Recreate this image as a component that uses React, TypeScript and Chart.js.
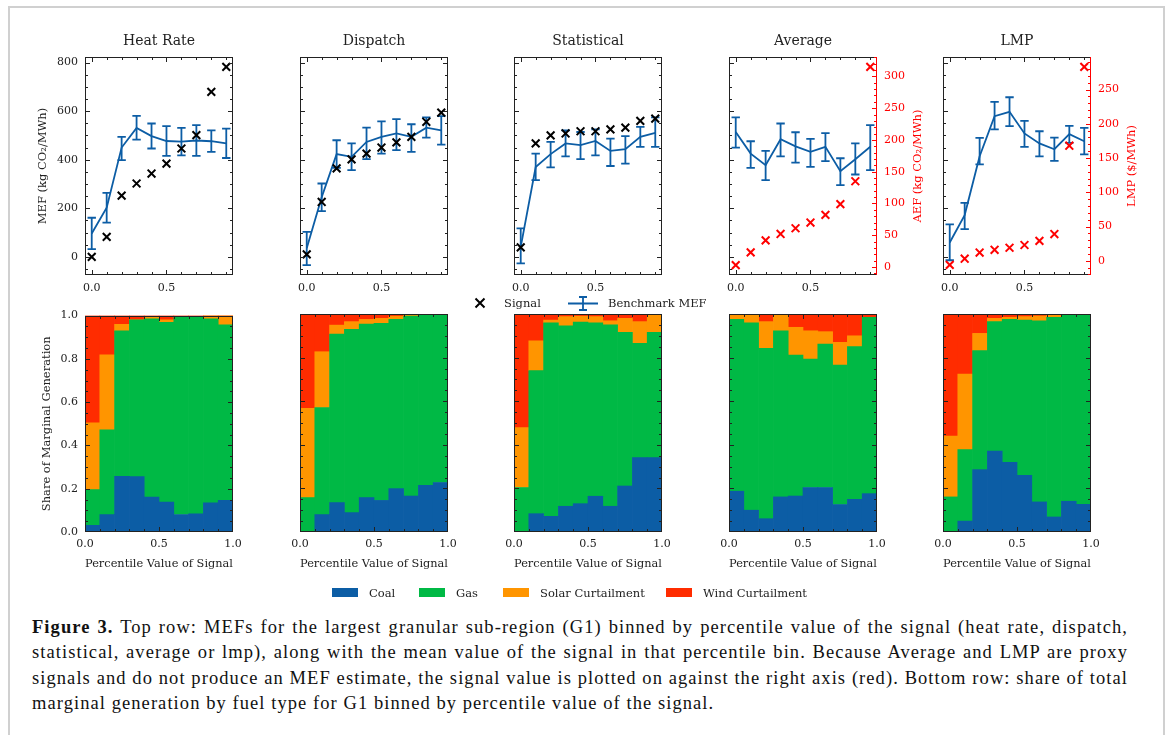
import React, { useEffect, useRef } from "react";
import { Chart, registerables } from "chart.js";

Chart.register(...registerables);

// ---------------- data ----------------
const PANEL_TITLES = ["Heat Rate", "Dispatch", "Statistical", "Average", "LMP"];
const PERCENTILE_BINS = [0.0, 0.1, 0.2, 0.3, 0.4, 0.5, 0.6, 0.7, 0.8, 0.9];
const BIN_CENTERS = [0.05, 0.15, 0.25, 0.35, 0.45, 0.55, 0.65, 0.75, 0.85, 0.95];

// Top row: benchmark MEF (mean, lower, upper) and signal mean per percentile bin
const HEAT_RATE_MEF = [96, 202, 450, 531, 497, 477, 474, 479, 476, 467];
const HEAT_RATE_MEF_LOW = [32, 141, 398, 483, 446, 416, 418, 416, 432, 407];
const HEAT_RATE_MEF_HIGH = [161, 263, 494, 580, 549, 538, 531, 542, 521, 528];
const HEAT_RATE_SIGNAL = [0, 82, 252, 302, 343, 384, 446, 501, 679, 782];

const DISPATCH_MEF = [35, 245, 423, 412, 473, 494, 508, 494, 532, 521];
const DISPATCH_MEF_LOW = [-34, 188, 366, 357, 402, 425, 439, 432, 491, 462];
const DISPATCH_MEF_HIGH = [103, 302, 480, 467, 532, 558, 567, 546, 574, 579];
const DISPATCH_SIGNAL = [10, 226, 364, 401, 425, 450, 471, 494, 556, 594];

const STATISTICAL_MEF = [41, 370, 423, 467, 460, 477, 436, 443, 494, 510];
const STATISTICAL_MEF_LOW = [-27, 316, 368, 414, 402, 418, 374, 384, 453, 453];
const STATISTICAL_MEF_HIGH = [117, 425, 473, 521, 514, 525, 487, 497, 535, 574];
const STATISTICAL_SIGNAL = [39, 467, 500, 508, 517, 517, 525, 532, 560, 569];

const AVERAGE_MEF = [514, 425, 377, 484, 455, 432, 453, 353, 402, 453];
const AVERAGE_MEF_LOW = [450, 366, 316, 414, 388, 370, 394, 295, 339, 357];
const AVERAGE_MEF_HIGH = [574, 476, 436, 549, 513, 486, 509, 406, 467, 542];
const AVERAGE_SIGNAL_AEF = [3, 23, 42, 52, 61, 70, 82, 99, 135, 315];

const LMP_MEF = [59, 172, 414, 579, 597, 508, 467, 443, 505, 476];
const LMP_MEF_LOW = [-14, 114, 381, 525, 538, 453, 414, 395, 469, 422];
const LMP_MEF_HIGH = [134, 222, 490, 638, 657, 560, 517, 491, 539, 531];
const LMP_SIGNAL_PRICE = [-6, 3, 12, 16, 19, 23, 29, 39, 168, 283];

// Bottom row: share of marginal generation per bin
const FUEL_LABELS = ["Coal", "Gas", "Solar Curtailment", "Wind Curtailment"];

const HEAT_RATE_COAL = [0.031, 0.080, 0.257, 0.256, 0.161, 0.138, 0.081, 0.084, 0.135, 0.146];
const HEAT_RATE_GAS = [0.165, 0.392, 0.673, 0.724, 0.824, 0.831, 0.911, 0.911, 0.850, 0.811];
const HEAT_RATE_SOLAR = [0.309, 0.347, 0.030, 0.000, 0.010, 0.011, 0.003, 0.002, 0.015, 0.043];
const HEAT_RATE_WIND = [0.495, 0.181, 0.040, 0.020, 0.005, 0.020, 0.005, 0.003, 0.000, 0.000];

const DISPATCH_COAL = [0.000, 0.080, 0.135, 0.089, 0.158, 0.145, 0.199, 0.165, 0.214, 0.227];
const DISPATCH_GAS = [0.158, 0.491, 0.773, 0.841, 0.796, 0.812, 0.776, 0.825, 0.781, 0.773];
const DISPATCH_SOLAR = [0.409, 0.256, 0.041, 0.035, 0.021, 0.023, 0.015, 0.007, 0.005, 0.000];
const DISPATCH_WIND = [0.433, 0.173, 0.051, 0.035, 0.025, 0.020, 0.010, 0.003, 0.000, 0.000];

const STATISTICAL_COAL = [0.000, 0.084, 0.072, 0.118, 0.130, 0.164, 0.118, 0.211, 0.341, 0.341];
const STATISTICAL_GAS = [0.204, 0.656, 0.888, 0.828, 0.833, 0.796, 0.832, 0.705, 0.524, 0.575];
const STATISTICAL_SOLAR = [0.275, 0.137, 0.012, 0.042, 0.027, 0.028, 0.019, 0.064, 0.100, 0.084];
const STATISTICAL_WIND = [0.521, 0.123, 0.028, 0.012, 0.010, 0.012, 0.031, 0.020, 0.035, 0.000];

const AVERAGE_COAL = [0.187, 0.100, 0.061, 0.161, 0.165, 0.204, 0.204, 0.126, 0.150, 0.176];
const AVERAGE_GAS = [0.788, 0.860, 0.781, 0.762, 0.647, 0.589, 0.658, 0.640, 0.700, 0.809];
const AVERAGE_SOLAR = [0.025, 0.040, 0.123, 0.077, 0.127, 0.130, 0.057, 0.104, 0.050, 0.000];
const AVERAGE_WIND = [0.000, 0.000, 0.035, 0.000, 0.061, 0.077, 0.081, 0.130, 0.100, 0.015];

const LMP_COAL = [0.000, 0.050, 0.286, 0.371, 0.320, 0.260, 0.138, 0.069, 0.141, 0.127];
const LMP_GAS = [0.161, 0.328, 0.546, 0.594, 0.655, 0.712, 0.831, 0.916, 0.856, 0.870];
const LMP_SOLAR = [0.279, 0.346, 0.079, 0.015, 0.010, 0.016, 0.022, 0.010, 0.001, 0.003];
const LMP_WIND = [0.560, 0.276, 0.089, 0.020, 0.015, 0.012, 0.009, 0.005, 0.002, 0.000];

// Tick labels
const MEF_TICKS = [0, 200, 400, 600, 800];
const AEF_TICKS = [0, 50, 100, 150, 200, 250, 300];
const LMP_TICKS = [0, 50, 100, 150, 200, 250];
const TOP_X_TICKS = [0, 0.5];
const SHARE_TICKS = [0, 0.2, 0.4, 0.6, 0.8, 1.0];
const BOTTOM_X_TICKS = [0, 0.5, 1.0];

const CAPTION_LINES = [
  "Top row: MEFs for the largest granular sub-region (G1) binned by percentile value of the signal (heat rate, dispatch,",
  "statistical, average or lmp), along with the mean value of the signal in that percentile bin. Because Average and LMP are proxy",
  "signals and do not produce an MEF estimate, the signal value is plotted on against the right axis (red). Bottom row: share of total",
  "marginal generation by fuel type for G1 binned by percentile value of the signal.",
];

// ---------------- styling / layout ----------------
const FONT = "'DejaVu Serif', serif";
const CAPTION_FONT = "'Liberation Serif', 'Times New Roman', serif";
const INK = "#222222";
const BLUE = "#0C5DA5";
const FUEL_COLORS = ["#0C5DA5", "#00B945", "#FF9500", "#FF2C00"];
const SIGNAL_RED = "#FF0000";

const COL_LEFT = [85, 300, 514, 729, 943];
const PLOT_W = 148;
const PLOT_H = 218;
const ROW_TOP = [57, 314];
const PAD_L = 52;
const PAD_R = 56;
const TITLE_H = 30;
const PAD_T2 = 12;
const PAD_B = 45;
const MAJOR_LEN = 4.5;
const MINOR_LEN = 2.5;
const CAP_HALF = 4.2;

const TOP_PANELS = [
  { title: PANEL_TITLES[0], mef: HEAT_RATE_MEF, low: HEAT_RATE_MEF_LOW, high: HEAT_RATE_MEF_HIGH, signal: HEAT_RATE_SIGNAL, right: null as any },
  { title: PANEL_TITLES[1], mef: DISPATCH_MEF, low: DISPATCH_MEF_LOW, high: DISPATCH_MEF_HIGH, signal: DISPATCH_SIGNAL, right: null as any },
  { title: PANEL_TITLES[2], mef: STATISTICAL_MEF, low: STATISTICAL_MEF_LOW, high: STATISTICAL_MEF_HIGH, signal: STATISTICAL_SIGNAL, right: null as any },
  {
    title: PANEL_TITLES[3], mef: AVERAGE_MEF, low: AVERAGE_MEF_LOW, high: AVERAGE_MEF_HIGH, signal: AVERAGE_SIGNAL_AEF,
    right: { label: "AEF (kg CO\u2082/MWh)", ticks: AEF_TICKS, min: -12.6, max: 330.6, minor: 10 },
  },
  {
    title: PANEL_TITLES[4], mef: LMP_MEF, low: LMP_MEF_LOW, high: LMP_MEF_HIGH, signal: LMP_SIGNAL_PRICE,
    right: { label: "LMP ($/MWh)", ticks: LMP_TICKS, min: -20.8, max: 297.5, minor: 10 },
  },
];

const BOTTOM_PANELS = [
  [HEAT_RATE_COAL, HEAT_RATE_GAS, HEAT_RATE_SOLAR, HEAT_RATE_WIND],
  [DISPATCH_COAL, DISPATCH_GAS, DISPATCH_SOLAR, DISPATCH_WIND],
  [STATISTICAL_COAL, STATISTICAL_GAS, STATISTICAL_SOLAR, STATISTICAL_WIND],
  [AVERAGE_COAL, AVERAGE_GAS, AVERAGE_SOLAR, AVERAGE_WIND],
  [LMP_COAL, LMP_GAS, LMP_SOLAR, LMP_WIND],
];

// ---------------- helpers ----------------
function stepValues(min: number, max: number, step: number) {
  const out: number[] = [];
  for (let k = Math.ceil(min / step - 1e-6); k * step <= max + 1e-6; k++) out.push(k * step);
  return out;
}

type FrameCfg = {
  xMajor: number[];
  xMinor: number;
  yMajor: number[];
  yMinor: number;
  y2?: { ticks: number[]; minor: number; label: string } | null;
  err?: { x: number[]; low: number[]; high: number[] } | null;
};

function makeFramePlugin(cfg: FrameCfg) {
  return {
    id: "frameTicks",
    afterDatasetDraw(chart: any, args: any) {
      if (!cfg.err || args.index !== 0) return;
      const { ctx } = chart;
      const xs = chart.scales.x;
      const ys = chart.scales.y;
      ctx.save();
      ctx.strokeStyle = BLUE;
      ctx.lineWidth = 1.8;
      cfg.err.x.forEach((xv, k) => {
        const px = xs.getPixelForValue(xv);
        const lo = ys.getPixelForValue(cfg.err!.low[k]);
        const hi = ys.getPixelForValue(cfg.err!.high[k]);
        ctx.beginPath();
        ctx.moveTo(px, lo);
        ctx.lineTo(px, hi);
        ctx.moveTo(px - CAP_HALF, lo);
        ctx.lineTo(px + CAP_HALF, lo);
        ctx.moveTo(px - CAP_HALF, hi);
        ctx.lineTo(px + CAP_HALF, hi);
        ctx.stroke();
      });
      ctx.restore();
    },
    afterDraw(chart: any) {
      const { ctx, chartArea: a } = chart;
      const xs = chart.scales.x;
      const ys = chart.scales.y;
      const left = Math.round(a.left) + 0.5;
      const right = Math.round(a.right) - 0.5;
      const top = Math.round(a.top) + 0.5;
      const bottom = Math.round(a.bottom) - 0.5;
      ctx.save();
      ctx.lineWidth = 1;
      ctx.strokeStyle = INK;
      const xTick = (v: number, len: number) => {
        const p = Math.round(xs.getPixelForValue(v)) + 0.5;
        if (p < left - 0.1 || p > right + 0.1) return;
        ctx.moveTo(p, bottom);
        ctx.lineTo(p, bottom - len);
        ctx.moveTo(p, top);
        ctx.lineTo(p, top + len);
      };
      const yTick = (scale: any, v: number, len: number, l: boolean, r: boolean) => {
        const p = Math.round(scale.getPixelForValue(v)) + 0.5;
        if (p < top - 0.1 || p > bottom + 0.1) return;
        if (l) {
          ctx.moveTo(left, p);
          ctx.lineTo(left + len, p);
        }
        if (r) {
          ctx.moveTo(right, p);
          ctx.lineTo(right - len, p);
        }
      };
      ctx.beginPath();
      cfg.xMajor.forEach((v) => xTick(v, MAJOR_LEN));
      stepValues(xs.min, xs.max, cfg.xMinor).forEach((v) => xTick(v, MINOR_LEN));
      const mirror = !cfg.y2;
      cfg.yMajor.forEach((v) => yTick(ys, v, MAJOR_LEN, true, mirror));
      stepValues(ys.min, ys.max, cfg.yMinor).forEach((v) => yTick(ys, v, MINOR_LEN, true, mirror));
      ctx.stroke();
      ctx.strokeRect(left, top, right - left, bottom - top);

      if (cfg.y2) {
        const y2 = chart.scales.y2;
        ctx.strokeStyle = SIGNAL_RED;
        ctx.beginPath();
        cfg.y2.ticks.forEach((v) => yTick(y2, v, MAJOR_LEN, false, true));
        stepValues(y2.min, y2.max, cfg.y2.minor).forEach((v) => yTick(y2, v, MINOR_LEN, false, true));
        ctx.moveTo(right, top - 0.5);
        ctx.lineTo(right, bottom + 0.5);
        ctx.stroke();
        ctx.fillStyle = SIGNAL_RED;
        ctx.font = `11.5px ${FONT}`;
        ctx.textAlign = "center";
        ctx.textBaseline = "middle";
        ctx.translate(a.right + 41, (a.top + a.bottom) / 2);
        ctx.rotate(-Math.PI / 2);
        ctx.fillText(cfg.y2.label, 0, 0);
      }
      ctx.restore();
    },
  };
}

const tickFont = { family: FONT, size: 11 };
const labelFont = { family: FONT, size: 11.5, lineHeight: 1.2 };

function topConfig(spec: (typeof TOP_PANELS)[number], col: number) {
  const hasRight = !!spec.right;
  const sigColor = hasRight ? SIGNAL_RED : "#000000";
  const scales: any = {
    x: {
      type: "linear",
      min: -0.045,
      max: 0.945,
      grid: { display: false, drawTicks: false },
      border: { display: false },
      ticks: { padding: 7, font: tickFont, color: INK, callback: (v: any) => Number(v).toFixed(1) },
      afterBuildTicks: (s: any) => {
        s.ticks = TOP_X_TICKS.map((v) => ({ value: v }));
      },
      afterFit: (s: any) => {
        s.height = PAD_B;
      },
    },
    y: {
      type: "linear",
      position: "left",
      min: -74.8,
      max: 822.8,
      grid: { display: false, drawTicks: false },
      border: { display: false },
      ticks: { display: col === 0, padding: 7, font: tickFont, color: INK, callback: (v: any) => String(v) },
      afterBuildTicks: (s: any) => {
        s.ticks = MEF_TICKS.map((v) => ({ value: v }));
      },
      afterFit: (s: any) => {
        s.width = PAD_L;
      },
      title: {
        display: col === 0,
        text: "MEF (kg CO\u2082/MWh)",
        font: labelFont,
        color: INK,
        padding: { top: 3.4, bottom: 0 },
      },
    },
  };
  if (hasRight) {
    scales.y2 = {
      type: "linear",
      position: "right",
      min: spec.right.min,
      max: spec.right.max,
      grid: { display: false, drawTicks: false },
      border: { display: false },
      ticks: { padding: 7, font: tickFont, color: SIGNAL_RED, callback: (v: any) => String(v) },
      afterBuildTicks: (s: any) => {
        s.ticks = spec.right.ticks.map((v: number) => ({ value: v }));
      },
      afterFit: (s: any) => {
        s.width = PAD_R;
      },
    };
  }
  return {
    type: "scatter",
    data: {
      datasets: [
        {
          label: "Benchmark MEF",
          data: PERCENTILE_BINS.map((x, k) => ({ x, y: spec.mef[k] })),
          showLine: true,
          borderColor: BLUE,
          backgroundColor: BLUE,
          borderWidth: 1.8,
          pointRadius: 0,
          tension: 0,
          yAxisID: "y",
          order: 2,
        },
        {
          label: "Signal",
          data: PERCENTILE_BINS.map((x, k) => ({ x, y: spec.signal[k] })),
          showLine: false,
          pointStyle: "crossRot",
          pointRadius: 5.5,
          pointBorderWidth: 2,
          pointBorderColor: sigColor,
          pointBackgroundColor: sigColor,
          borderColor: sigColor,
          backgroundColor: sigColor,
          yAxisID: hasRight ? "y2" : "y",
          order: 1,
        },
      ],
    },
    options: {
      responsive: false,
      animation: false,
      events: [],
      layout: { padding: { left: 0, right: hasRight ? 0 : PAD_R, top: 0, bottom: 0 } },
      plugins: {
        legend: { display: false },
        tooltip: { enabled: false },
        title: {
          display: true,
          text: spec.title,
          fullSize: false,
          color: INK,
          font: { family: FONT, size: 14, weight: "normal", lineHeight: 1.2 },
          padding: { top: 5.6, bottom: 7.6 },
        },
      },
      scales,
    },
    plugins: [
      makeFramePlugin({
        xMajor: TOP_X_TICKS,
        xMinor: 0.1,
        yMajor: MEF_TICKS,
        yMinor: 50,
        y2: hasRight ? { ticks: spec.right.ticks, minor: spec.right.minor, label: spec.right.label } : null,
        err: { x: PERCENTILE_BINS, low: spec.low, high: spec.high },
      }),
    ],
  };
}

function bottomConfig(shares: number[][], col: number) {
  return {
    type: "bar",
    data: {
      datasets: shares.map((vals, j) => ({
        label: FUEL_LABELS[j],
        data: BIN_CENTERS.map((x, k) => ({ x, y: vals[k] })),
        backgroundColor: FUEL_COLORS[j],
        borderWidth: 0,
        barPercentage: 1,
        categoryPercentage: 1,
      })),
    },
    options: {
      responsive: false,
      animation: false,
      events: [],
      layout: { padding: { left: 0, right: PAD_R, top: PAD_T2, bottom: 0 } },
      plugins: { legend: { display: false }, tooltip: { enabled: false } },
      scales: {
        x: {
          type: "linear",
          min: 0,
          max: 1,
          offset: false,
          stacked: true,
          grid: { display: false, drawTicks: false },
          border: { display: false },
          ticks: { padding: 6, font: tickFont, color: INK, callback: (v: any) => Number(v).toFixed(1) },
          afterBuildTicks: (s: any) => {
            s.ticks = BOTTOM_X_TICKS.map((v) => ({ value: v }));
          },
          afterFit: (s: any) => {
            s.height = PAD_B;
          },
          title: {
            display: true,
            text: "Percentile Value of Signal",
            font: labelFont,
            color: INK,
            padding: { top: 0, bottom: 6.1 },
          },
        },
        y: {
          type: "linear",
          min: 0,
          max: 1,
          stacked: true,
          grid: { display: false, drawTicks: false },
          border: { display: false },
          ticks: { display: col === 0, padding: 7, font: tickFont, color: INK, callback: (v: any) => Number(v).toFixed(1) },
          afterBuildTicks: (s: any) => {
            s.ticks = SHARE_TICKS.map((v) => ({ value: v }));
          },
          afterFit: (s: any) => {
            s.width = PAD_L;
          },
          title: {
            display: col === 0,
            text: "Share of Marginal Generation",
            font: labelFont,
            color: INK,
            padding: { top: 6.8, bottom: 0 },
          },
        },
      },
    },
    plugins: [
      makeFramePlugin({ xMajor: BOTTOM_X_TICKS, xMinor: 0.1, yMajor: SHARE_TICKS, yMinor: 0.05, y2: null, err: null }),
    ],
  };
}

function ChartCanvas(props: { left: number; top: number; width: number; height: number; make: () => any }) {
  const ref = useRef<HTMLCanvasElement | null>(null);
  useEffect(() => {
    if (!ref.current) return;
    const chart = new Chart(ref.current, props.make());
    return () => chart.destroy();
  }, []);
  const { left, top, width, height } = props;
  return (
    <canvas
      ref={ref}
      width={width}
      height={height}
      style={{ position: "absolute", left, top, width, height, display: "block" }}
    />
  );
}

const textStyle: React.CSSProperties = {
  position: "absolute",
  fontFamily: FONT,
  fontSize: 11.5,
  lineHeight: "14px",
  color: INK,
  whiteSpace: "nowrap",
};

const captionLineStyle = (justify: boolean): React.CSSProperties => ({
  width: 1096,
  height: 25.3,
  whiteSpace: "nowrap",
  textAlign: justify ? "justify" : "left",
  textAlignLast: justify ? "justify" : "left",
});

export default function App() {
  return (
    <div
      style={{
        position: "absolute",
        left: 0,
        top: 0,
        width: 1171,
        height: 735,
        overflow: "hidden",
        background: "#ffffff",
      }}
    >
      <div
        style={{
          position: "absolute",
          left: 8,
          top: 6,
          width: 1157,
          height: 800,
          border: "2px solid #d0d0d0",
          boxSizing: "border-box",
        }}
      />
      {TOP_PANELS.map((spec, i) => (
        <ChartCanvas
          key={"t" + i}
          left={COL_LEFT[i] - PAD_L}
          top={ROW_TOP[0] - TITLE_H}
          width={PAD_L + PLOT_W + PAD_R}
          height={TITLE_H + PLOT_H + PAD_B}
          make={() => topConfig(spec, i)}
        />
      ))}
      {BOTTOM_PANELS.map((shares, i) => (
        <ChartCanvas
          key={"b" + i}
          left={COL_LEFT[i] - PAD_L}
          top={ROW_TOP[1] - PAD_T2}
          width={PAD_L + PLOT_W + PAD_R}
          height={PAD_T2 + PLOT_H + PAD_B}
          make={() => bottomConfig(shares, i)}
        />
      ))}

      {/* top-row legend */}
      <svg style={{ position: "absolute", left: 474, top: 297 }} width={12} height={12}>
        <path d="M1.5 1.5 L10.5 10.5 M10.5 1.5 L1.5 10.5" stroke="#000" strokeWidth={2} fill="none" />
      </svg>
      <div style={{ ...textStyle, left: 504, top: 296 }}>Signal</div>
      <svg style={{ position: "absolute", left: 567, top: 296 }} width={32} height={15}>
        <path d="M1 7.5 H31 M16 1 V14 M12 1 H20 M12 14 H20" stroke={BLUE} strokeWidth={1.8} fill="none" />
      </svg>
      <div style={{ ...textStyle, left: 608, top: 296 }}>Benchmark MEF</div>

      {/* fuel legend */}
      {FUEL_LABELS.map((lab, j) => {
        const sx = [332, 419, 503, 666][j];
        return (
          <React.Fragment key={lab}>
            <div
              style={{
                position: "absolute",
                left: sx,
                top: 588,
                width: 26,
                height: 9,
                background: FUEL_COLORS[j],
              }}
            />
            <div style={{ ...textStyle, left: sx + 37, top: 586 }}>{lab}</div>
          </React.Fragment>
        );
      })}

      {/* caption */}
      <div
        style={{
          position: "absolute",
          left: 32,
          top: 615,
          fontFamily: CAPTION_FONT,
          fontSize: 18.5,
          letterSpacing: "1.07px",
          lineHeight: "25.3px",
          color: "#111",
        }}
      >
        {CAPTION_LINES.map((line, k) => (
          <div key={k} style={captionLineStyle(k < CAPTION_LINES.length - 1)}>
            {k === 0 ? (
              <>
                <b>Figure 3.</b> {line}
              </>
            ) : (
              line
            )}
          </div>
        ))}
      </div>
    </div>
  );
}
